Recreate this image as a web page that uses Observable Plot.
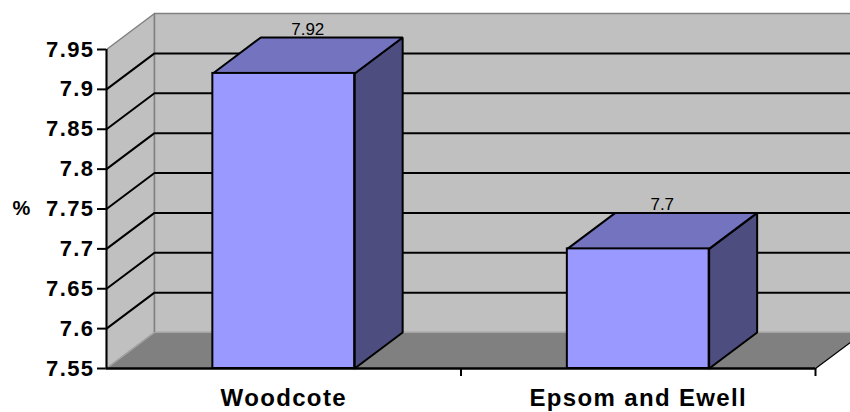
<!DOCTYPE html>
<html>
<head>
<meta charset="utf-8">
<script src="https://cdn.jsdelivr.net/npm/d3@7"></script>
<script src="https://cdn.jsdelivr.net/npm/@observablehq/plot@0.6"></script>
<style>
  html, body { margin: 0; padding: 0; background: #fff; overflow: hidden; }
  .chart { font-family: "Liberation Sans", Arial, sans-serif; }
  .chart g[aria-label^="y-axis"] text {
    font: bold 22px "Liberation Sans", Arial, sans-serif;
    letter-spacing: 1.4px;
    fill: #000;
  }
  .chart g[aria-label^="x-axis"] text {
    font: bold 24px "Liberation Sans", Arial, sans-serif;
    letter-spacing: 1.35px;
    fill: #000;
  }
  .chart g[aria-label^="y-axis"] path,
  .chart g[aria-label^="y-axis"] line {
    stroke: #000;
    stroke-width: 2px;
  }
  .chart g[aria-label^="x-axis"] path,
  .chart g[aria-label^="x-axis"] line { display: none; }
</style>
</head>
<body>
<script>
// ---- data ----
const categories = ["Woodcote", "Epsom and Ewell"];
const values = [7.92, 7.7];
const valueLabels = ["7.92", "7.7"];
const yTicks = [7.55, 7.6, 7.65, 7.7, 7.75, 7.8, 7.85, 7.9, 7.95];
const yTickLabels = ["7.55", "7.6", "7.65", "7.7", "7.75", "7.8", "7.85", "7.9", "7.95"];
const yUnit = "%";

// ---- layout / style ----
const W = 850, H = 412;
const mL = 106, mR = 35, mT = 49, mB = 44;
const yMin = yTicks[0], yMax = yTicks[yTicks.length - 1];
const nCat = categories.length;
const pxPerX = (W - mL - mR) / nCat;
const pxPerY = (H - mT - mB) / (yMax - yMin);
const DEPTH_DX = 48, DEPTH_DY = 36; // pixel offset of the 3D depth
const zx = DEPTH_DX / pxPerX, zy = DEPTH_DY / pxPerY;
const P = (x, y, d) => [x + d * zx, y + d * zy];
const BAR0 = 0.3, BAR1 = 0.7;

function poly(id, pts) {
  return pts.concat([pts[0]]).map(([x, y]) => ({id, x, y}));
}

// walls & floor
const sideWall = poly("side", [[0, yMin], [0, yMax], P(0, yMax, 1), P(0, yMin, 1)]);
const backWall = poly("back", [P(0, yMin, 1), P(0, yMax, 1), P(nCat, yMax, 1), P(nCat, yMin, 1)]);
const floor = poly("floor", [[0, yMin], [nCat, yMin], P(nCat, yMin, 1), P(0, yMin, 1)]);
const floorEdges = [
  {id: "l", x: 0, y: yMin}, {id: "l", x: P(0, yMin, 1)[0], y: P(0, yMin, 1)[1]},
  {id: "b", x: P(0, yMin, 1)[0], y: P(0, yMin, 1)[1]}, {id: "b", x: P(nCat, yMin, 1)[0], y: P(nCat, yMin, 1)[1]}
];
const floorRight = [{x: nCat, y: yMin}, {x: P(nCat, yMin, 1)[0], y: P(nCat, yMin, 1)[1]}];

// gridlines (inner ticks)
const grid = [];
yTicks.filter(t => t > yMin && t < yMax).forEach(t => {
  [[0, t], P(0, t, 1), P(nCat, t, 1)].forEach(([x, y]) => grid.push({id: t, x, y}));
});

// bars
const tops = [], sides = [], fronts = [], labels = [];
values.forEach((v, i) => {
  const x1 = i + BAR0, x2 = i + BAR1;
  fronts.push({x1, x2, y1: yMin, y2: v});
  tops.push(...poly(i, [[x1, v], [x2, v], P(x2, v, 1), P(x1, v, 1)]));
  sides.push(...poly(i, [[x2, yMin], [x2, v], P(x2, v, 1), P(x2, yMin, 1)]));
  labels.push({x: (x1 + x2) / 2 + 0.5 * zx, y: v + zy, text: valueLabels[i]});
});

const chart = Plot.plot({
  className: "chart",
  width: W, height: H,
  marginLeft: mL, marginRight: mR, marginTop: mT, marginBottom: mB,
  style: {background: "#fff", overflow: "visible"},
  x: {
    domain: [0, nCat],
    ticks: categories.map((c, i) => i + 0.5),
    tickFormat: d => categories[Math.floor(d)],
    tickSize: 0, tickPadding: 20, label: null
  },
  y: {
    domain: [yMin, yMax],
    ticks: yTicks,
    tickFormat: d => yTickLabels[yTicks.indexOf(d)],
    tickSize: 9, tickPadding: 3, label: null
  },
  marks: [
    Plot.line(sideWall, {x: "x", y: "y", z: "id", fill: "#C0C0C0", stroke: "#808080", strokeWidth: 1.5, curve: "linear"}),
    Plot.line(backWall, {x: "x", y: "y", z: "id", fill: "#C0C0C0", stroke: "#808080", strokeWidth: 1.5, curve: "linear"}),
    Plot.line(floor, {x: "x", y: "y", z: "id", fill: "#808080", stroke: "none", curve: "linear"}),
    Plot.line(floorEdges, {x: "x", y: "y", z: "id", stroke: "#A6A6A6", strokeWidth: 1.2}),
    Plot.line(floorRight, {x: "x", y: "y", stroke: "#000", strokeWidth: 1.2}),
    Plot.line(grid, {x: "x", y: "y", z: "id", stroke: "#000", strokeWidth: 2, strokeLinejoin: "miter"}),
    Plot.line(sides, {x: "x", y: "y", z: "id", fill: "#4D4D80", stroke: "#000", strokeWidth: 2, strokeLinejoin: "miter"}),
    Plot.line(tops, {x: "x", y: "y", z: "id", fill: "#7373BF", stroke: "#000", strokeWidth: 2, strokeLinejoin: "miter"}),
    Plot.rect(fronts, {x1: "x1", x2: "x2", y1: "y1", y2: "y2", fill: "#9999FF", stroke: "#000", strokeWidth: 2}),
    Plot.text(labels, {x: "x", y: "y", text: "text", dy: -8, fontSize: 17, fill: "#000", fontFamily: "Liberation Sans, Arial, sans-serif"}),
    Plot.ruleX([0], {stroke: "#000", strokeWidth: 2}),
    Plot.ruleY([yMin], {x1: 0, x2: nCat, stroke: "#000", strokeWidth: 2.5}),
    Plot.ruleX(d3.range(1, nCat + 1), {x: d => d, y1: yMin, y2: yMin - 8 / pxPerY, stroke: "#000", strokeWidth: 2}),
    Plot.text([yUnit], {frameAnchor: "left", textAnchor: "middle", dx: -85, fontSize: 20, fontWeight: "bold", fill: "#000", fontFamily: "Liberation Sans, Arial, sans-serif"})
  ]
});
document.body.appendChild(chart);
</script>
</body>
</html>
